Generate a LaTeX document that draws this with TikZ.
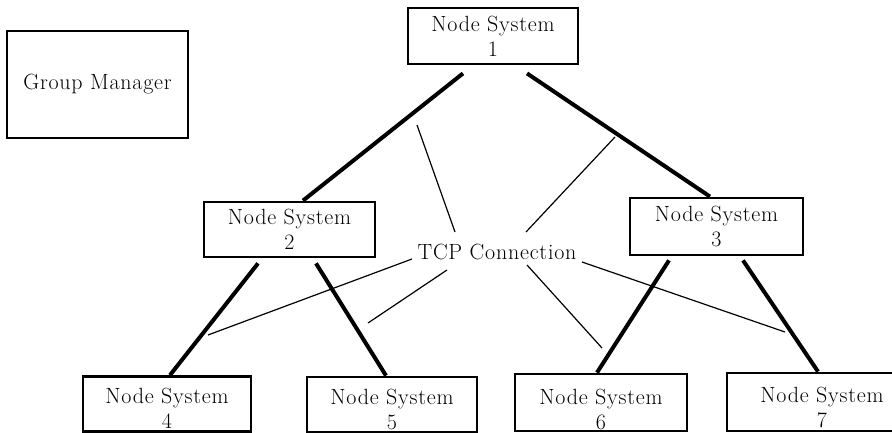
\documentclass[tikz,border=0pt]{standalone}
\usepackage{fontspec}
\setmainfont{Latin Modern Roman}[LetterSpace=3.5]
\usepackage{tikz}

\begin{document}
\begin{tikzpicture}[x=1pt, y=-1pt,
	box/.style={draw, line width=2.8pt, align=center, inner sep=0pt, font=\fontsize{22}{25}\selectfont},
	leaf/.style={box, text height=52pt, text depth=3pt},
	link/.style={line width=4pt},
	tcp/.style={line width=1.2pt}]
	\path[use as bounding box, clip] (0,0) rectangle (892,433);
	% boxes
	\node[box, minimum width=181pt, minimum height=107pt] (gm) at (97.5,84.5) {Group Manager};
	\node[box, minimum width=170pt, minimum height=56pt] (n1) at (493,36) {Node System\\1};
	\node[box, minimum width=171pt, minimum height=55pt] (n2) at (289.5,229.5) {Node System\\2};
	\node[box, minimum width=173pt, minimum height=57pt] (n3) at (716.5,226.5) {Node System\\3};
	\node[leaf, minimum width=168pt, minimum height=55pt] (n4) at (167,404) {Node System\\4};
	\node[leaf, minimum width=170pt, minimum height=55pt] (n5) at (392,404.5) {Node System\\5};
	\node[leaf, text height=55pt, text depth=2pt, minimum width=172pt, minimum height=57pt] (n6) at (601,402.5) {Node System\\6};
	\node[leaf, text height=54pt, text depth=4pt, minimum width=190pt, minimum height=58pt] (n7) at (822,402) {Node System\\7};
	\node[font=\fontsize{22}{25}\selectfont, inner sep=0pt] (tc) at (497,252) {TCP Connection};
	% tree links
	\draw[link] ([xshift=-30pt, yshift=-8pt]n1.south) -- ([xshift=13.5pt]n2.north);
	\draw[link] ([xshift=34pt, yshift=-8pt]n1.south) -- ([xshift=-6.5pt]n3.north);
	\draw[link] ([xshift=-31.5pt, yshift=-5pt]n2.south) -- ([xshift=3pt]n4.north);
	\draw[link] ([xshift=26.5pt, yshift=-5pt]n2.south) -- ([xshift=-6pt]n5.north);
	\draw[link] ([xshift=-47.5pt, yshift=-4pt]n3.south) -- ([xshift=-4pt]n6.north);
	\draw[link] ([xshift=26.5pt, yshift=-4pt]n3.south) -- ([xshift=-4pt]n7.north);
	% tcp connections
	\coordinate (ta) at (417,125);
	\coordinate (tb) at (615,137);
	\coordinate (tcc) at (208,335);
	\coordinate (td) at (368,323);
	\coordinate (te) at (602,348);
	\coordinate (tf) at (785,332);
	\draw[tcp] ([shift={(-42,-20)}]tc.center) -- (ta);
	\draw[tcp] ([shift={(29,-20)}]tc.center) -- (tb);
	\draw[tcp] ([shift={(-85,7)}]tc.center) -- (tcc);
	\draw[tcp] ([shift={(-50,18)}]tc.center) -- (td);
	\draw[tcp] ([shift={(30,13)}]tc.center) -- (te);
	\draw[tcp] ([shift={(85,10)}]tc.center) -- (tf);
\end{tikzpicture}
\end{document}
